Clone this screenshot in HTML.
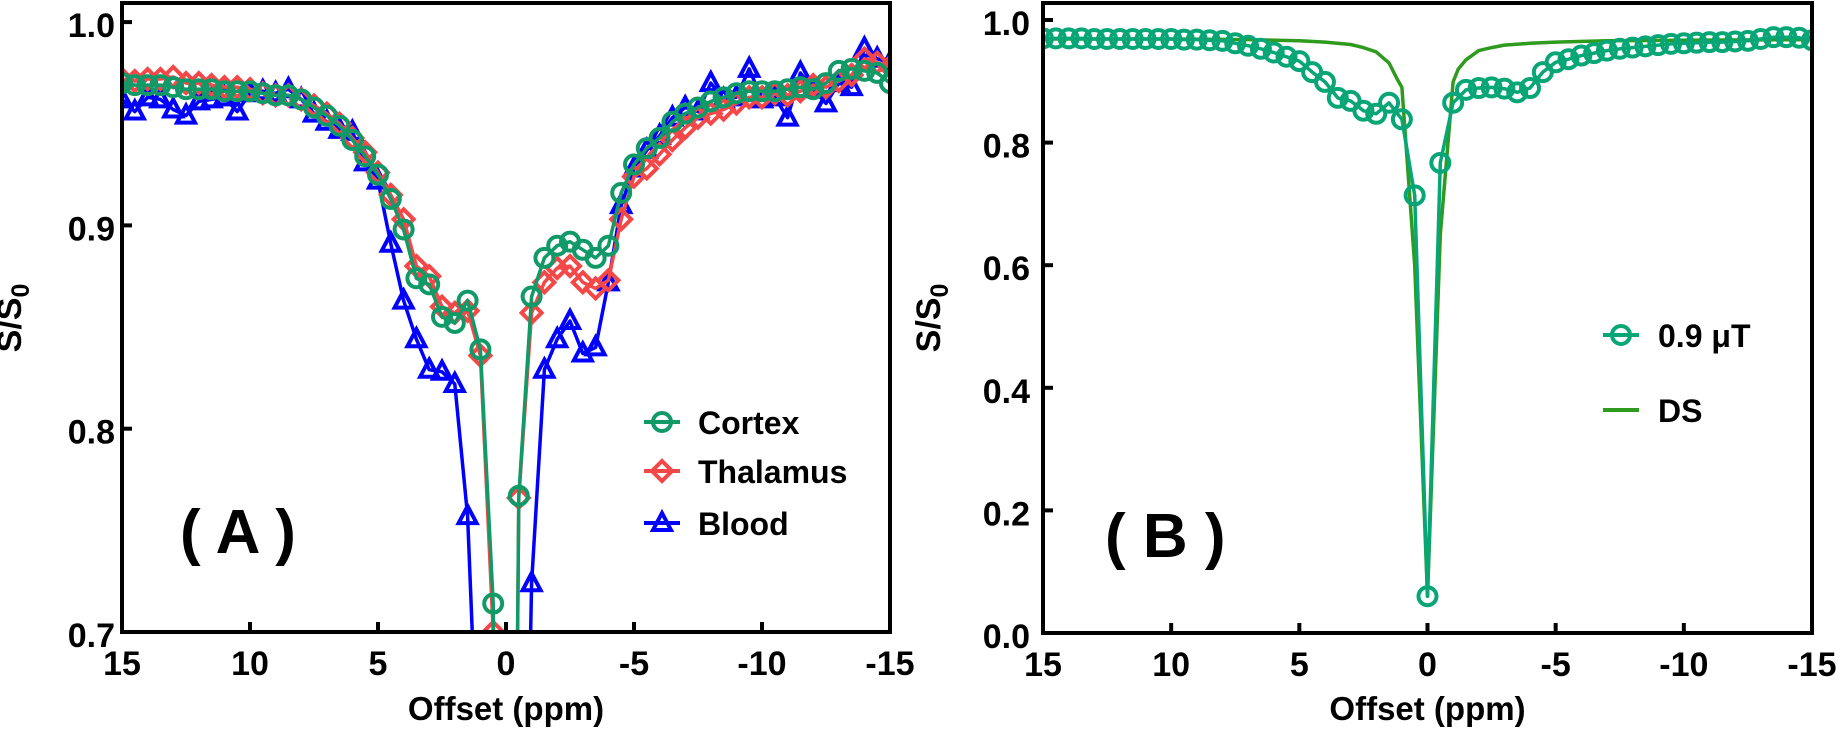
<!DOCTYPE html>
<html><head><meta charset="utf-8"><style>
html,body{margin:0;padding:0;background:#fff;width:1843px;height:732px;overflow:hidden;}
svg{display:block;font-family:"Liberation Sans",Arial,sans-serif;font-weight:bold;}
</style></head>
<body>
<svg id="fig" width="1843" height="732" viewBox="0 0 1843 732" xmlns="http://www.w3.org/2000/svg">
<defs>
<clipPath id="clipA"><rect x="122" y="3" width="768" height="629"/></clipPath>
<clipPath id="clipB"><rect x="1043" y="3" width="769" height="630"/></clipPath>
</defs>
<g id="panelA"></g>
<g id="panelB"></g>
</svg>
<script>
const offsets = [15,14.5,14,13.5,13,12.5,12,11.5,11,10.5,10,9.5,9,8.5,8,7.5,7,6.5,6,5.5,5,4.5,4,3.5,3,2.5,2,1.5,1,0.5,0,-0.5,-1,-1.5,-2,-2.5,-3,-3.5,-4,-4.5,-5,-5.5,-6,-6.5,-7,-7.5,-8,-8.5,-9,-9.5,-10,-10.5,-11,-11.5,-12,-12.5,-13,-13.5,-14,-14.5,-15];
const cortex = [0.970,0.969,0.969,0.969,0.968,0.967,0.967,0.967,0.966,0.966,0.966,0.965,0.964,0.964,0.962,0.958,0.954,0.949,0.942,0.934,0.925,0.913,0.898,0.874,0.871,0.855,0.852,0.863,0.839,0.714,0.06,0.767,0.865,0.884,0.890,0.892,0.888,0.884,0.890,0.916,0.930,0.938,0.943,0.951,0.955,0.958,0.961,0.963,0.965,0.966,0.966,0.966,0.967,0.968,0.967,0.970,0.976,0.977,0.976,0.975,0.970];
const thalamus = [0.972,0.971,0.972,0.972,0.973,0.970,0.970,0.969,0.968,0.968,0.967,0.965,0.964,0.964,0.962,0.959,0.955,0.950,0.943,0.936,0.926,0.915,0.903,0.880,0.875,0.860,0.857,0.858,0.836,0.700,0.05,0.766,0.857,0.872,0.879,0.880,0.872,0.869,0.873,0.903,0.924,0.928,0.935,0.942,0.948,0.953,0.955,0.957,0.960,0.963,0.963,0.965,0.964,0.966,0.969,0.968,0.971,0.974,0.982,0.980,0.978];
const blood = [0.962,0.956,0.963,0.962,0.957,0.954,0.961,0.962,0.963,0.956,0.965,0.966,0.965,0.967,0.962,0.955,0.951,0.947,0.946,0.931,0.922,0.891,0.863,0.844,0.829,0.828,0.822,0.757,0.60,0.30,0.10,0.40,0.724,0.829,0.844,0.853,0.837,0.840,0.872,0.910,0.928,0.937,0.944,0.953,0.958,0.956,0.970,0.962,0.963,0.977,0.962,0.963,0.953,0.975,0.967,0.960,0.970,0.968,0.987,0.982,0.980];
const measB = [0.970,0.970,0.970,0.970,0.969,0.969,0.969,0.969,0.969,0.969,0.969,0.968,0.968,0.967,0.966,0.962,0.958,0.953,0.947,0.940,0.933,0.915,0.899,0.873,0.868,0.852,0.847,0.865,0.838,0.714,0.06,0.767,0.865,0.886,0.889,0.890,0.888,0.882,0.889,0.915,0.931,0.936,0.942,0.946,0.950,0.953,0.955,0.957,0.959,0.961,0.962,0.963,0.964,0.964,0.965,0.966,0.969,0.972,0.972,0.971,0.967];
const dsOffsets = [15,10,7,5,4,3,2.5,2,1.5,1.2,1,0.5,0,-0.5,-1,-1.2,-1.5,-2,-2.5,-3,-4,-5,-7,-10,-15];
const dsValues = [0.969,0.969,0.968,0.966,0.964,0.960,0.955,0.948,0.930,0.905,0.890,0.600,0.06,0.650,0.899,0.920,0.935,0.950,0.955,0.959,0.962,0.964,0.966,0.967,0.968];
const xTicks = [15,10,5,0,-5,-10,-15];
const xTickLabels = ["15","10","5","0","-5","-10","-15"];
const yTicksA = [0.7,0.8,0.9,1.0];
const yTickLabelsA = ["0.7","0.8","0.9","1.0"];
const yTicksB = [0.0,0.2,0.4,0.6,0.8,1.0];
const yTickLabelsB = ["0.0","0.2","0.4","0.6","0.8","1.0"];
const namesA = ["Cortex","Thalamus","Blood"];
const namesB = ["0.9 μT","DS"];

const NS="http://www.w3.org/2000/svg";
function mk(parent,tag,attrs){const e=document.createElementNS(NS,tag);for(const k in attrs)e.setAttribute(k,attrs[k]);parent.appendChild(e);return e;}

function frame(g,L,R,T,B,sx,sy,yt,ytl,ylabX,titleX,name){
  const fr=mk(g,'rect',{x:L,y:T,width:R-L,height:B-T,fill:'none',stroke:'#000','stroke-width':4});
  
  
  xTicks.forEach((t,i)=>{
    const x=sx(t);
    const tk=mk(g,'line',{x1:x,x2:x,y1:B,y2:B-10,stroke:'#000','stroke-width':4});
    
    
    const tx=mk(g,'text',{x:x,y:B+43,'font-size':34,'text-anchor':'middle'});
    tx.textContent=xTickLabels[i];
    
    
  });
  yt.forEach((t,i)=>{
    const y=sy(t);
    const tk=mk(g,'line',{x1:L,x2:L+10,y1:y,y2:y,stroke:'#000','stroke-width':4});
    
    
    const tx=mk(g,'text',{x:ylabX,y:y+15,'font-size':34,'text-anchor':'end'});
    tx.textContent=ytl[i];
    
    
  });
  const xt=mk(g,'text',{x:(L+R)/2,y:720,'font-size':33,'text-anchor':'middle'});
  xt.textContent='Offset (ppm)';
  
  
  const yT=mk(g,'text',{x:0,y:0,'font-size':34,'text-anchor':'middle',transform:`translate(${titleX},318) rotate(-90)`});
  yT.innerHTML='S/S<tspan font-size="25" dy="8">0</tspan>';
  
  
}

function marker(g,type,x,y,color){
  let m;
  if(type==='circle') m=mk(g,'circle',{cx:x,cy:y,r:9,fill:'none',stroke:color,'stroke-width':4});
  else if(type==='diamond') m=mk(g,'path',{d:`M${x} ${y-10}L${x+10} ${y}L${x} ${y+10}L${x-10} ${y}Z`,fill:'none',stroke:color,'stroke-width':4});
  else m=mk(g,'path',{d:`M${x} ${y-10}L${x+9} ${y+7}L${x-9} ${y+7}Z`,fill:'none',stroke:color,'stroke-width':4});
  return m;
}

function series(g,xs,ys,sx,sy,color,type,name,lw){
  const sg=mk(g,'g',{});
  
  
  const pts=xs.map((v,i)=>sx(v).toFixed(1)+','+sy(ys[i]).toFixed(1)).join(' ');
  const pl=mk(sg,'polyline',{points:pts,fill:'none',stroke:color,'stroke-width':lw||3.5,'stroke-linejoin':'round'});
  
  
  if(type){
    xs.forEach((v,i)=>{
      const m=marker(sg,type,sx(v),sy(ys[i]),color);
      
      
    });
  }
}

function legendEntry(g,x,y,tx,color,type,label){
  const lg=mk(g,'g',{});
  
  
  mk(lg,'line',{x1:x-18,x2:x+18,y1:y,y2:y,stroke:color,'stroke-width':4});
  if(type) marker(lg,type,x,y,color);
  const t=mk(lg,'text',{x:tx,y:y+12,'font-size':32});
  t.textContent=label;
}

// Panel A
(function(){
  const g=document.getElementById('panelA');
  const L=122,R=890,T=3,B=632;
  const sx=v=>L+(15-v)/30*(R-L);
  const sy=v=>632-(v-0.7)/0.1*203.3;
  const cg=mk(g,'g',{'clip-path':'url(#clipA)'});
  
  
  series(cg,offsets,blood,sx,sy,'#0000ff','triangle','blood');
  series(cg,offsets,thalamus,sx,sy,'#f44848','diamond','thalamus');
  series(cg,offsets,cortex,sx,sy,'#119a68','circle','cortex');
  frame(g,L,R,T,B,sx,sy,yTicksA,yTickLabelsA,115,21,'panel-a');
  legendEntry(g,662,422,698,'#119a68','circle',namesA[0]);
  legendEntry(g,662,471,698,'#f44848','diamond',namesA[1]);
  legendEntry(g,662,523,698,'#0000ff','triangle',namesA[2]);
  const lab=mk(g,'text',{x:180,y:553,'font-size':62});
  lab.textContent='( A )';
  
  
})();

// Panel B
(function(){
  const g=document.getElementById('panelB');
  const L=1043,R=1812,T=3,B=633;
  const sx=v=>L+(15-v)/30*(R-L);
  const sy=v=>633-v*613;
  const cg=mk(g,'g',{'clip-path':'url(#clipB)'});
  
  
  series(cg,dsOffsets,dsValues,sx,sy,'#2e9a1e',null,'ds',3.5);
  series(cg,offsets,measB,sx,sy,'#08a676','circle','measured-0p9ut');
  frame(g,L,R,T,B,sx,sy,yTicksB,yTickLabelsB,1030,940,'panel-b');
  legendEntry(g,1621,335,1658,'#08a676','circle',namesB[0]);
  legendEntry(g,1621,410,1658,'#2e9a1e',null,namesB[1]);
  const lab=mk(g,'text',{x:1105,y:557,'font-size':62});
  lab.textContent='( B )';
  
  
})();
</script>
</body></html>
